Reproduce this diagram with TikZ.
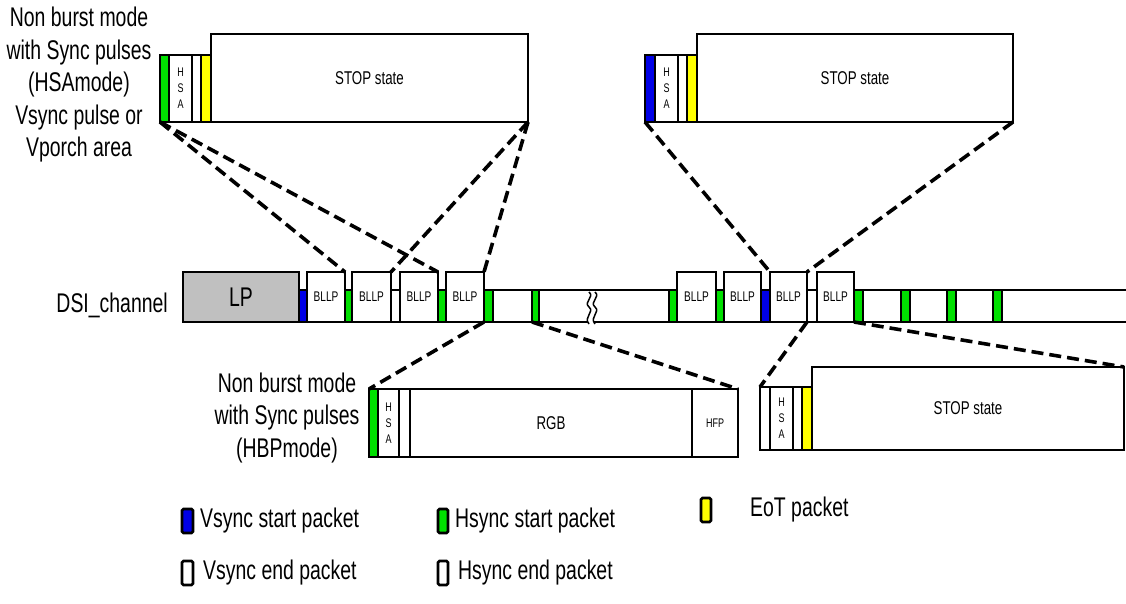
\documentclass[tikz,border=0pt]{standalone}
\usepackage{fontspec}
\setmainfont{Liberation Sans}[FakeStretch=0.72]
\usepackage{tikz}
\usetikzlibrary{positioning}
\definecolor{vsblue}{HTML}{0000E6}
\definecolor{hsgreen}{HTML}{00E000}
\definecolor{eotyellow}{HTML}{FFFF00}
\definecolor{lpgrey}{HTML}{C0C0C0}
\newcommand{\lblfont}{\fontsize{27}{32.5}\selectfont}
\newcommand{\stopfont}{\fontsize{18.5}{21}\selectfont}
\newcommand{\bllpfont}{\fontsize{14}{16}\selectfont}
\newcommand{\hsafont}{\fontsize{12.5}{16}\selectfont}

\begin{document}
\begin{tikzpicture}[x=1pt,y=-1pt,
  cell/.style 2 args={draw,line width=2.8pt,fill=white,inner sep=0pt,outer sep=0pt,anchor=north west,
    align=center,minimum width=#1,minimum height=#2},
  key/.style={draw,line width=2.6pt,rounded corners=1.5pt,inner sep=0pt,outer sep=0pt,anchor=north west,
    minimum width=10pt,minimum height=24pt},
  lbl/.style={font=\lblfont,inner sep=0pt},
  wire/.style={line width=2.8pt},
  lead/.style={dash pattern=on 12pt off 6pt,line width=3.6pt}]
  \useasboundingbox (0,0) rectangle (1126,604);
  % top left: HSA mode line
  \node[cell={9}{67},fill=hsgreen] (tlG) at (160,55) {};
  \node[cell={23}{67},font=\hsafont] (tlHsa) at (169,55) {H\\S\\A};
  \node[cell={9}{67}] (tlE) at (192,55) {};
  \node[cell={10}{67},fill=eotyellow] (tlEot) at (201,55) {};
  \node[cell={317}{88},font=\stopfont] (tlStop) at (211,34) {STOP state};
  \node[lbl,align=center] (lblHsa) at (79,85) {Non burst mode\\with Sync pulses\\(HSAmode)\\Vsync pulse or\\Vporch area};
  % top right: vsync start line
  \node[cell={10}{67},fill=vsblue] (trV) at (645,55) {};
  \node[cell={23}{67},font=\hsafont] (trHsa) at (655,55) {H\\S\\A};
  \node[cell={9}{67}] (trE) at (678,55) {};
  \node[cell={10}{67},fill=eotyellow] (trEot) at (687,55) {};
  \node[cell={316}{88},font=\stopfont] (trStop) at (697,34) {STOP state};
  % channel
  \draw[wire,fill=white] (299,290) -- (1130,290) (183,322) -- (1130,322);
  \node[lbl,anchor=east] (lblDsi) at (168,305) {DSI\_channel};
  \node[cell={116}{50},fill=lpgrey,font=\lblfont] (lp) at (183,272) {LP};
  \node[cell={8}{32},fill=vsblue] (chV1) at (299,290) {};
  \node[cell={38}{50},font=\bllpfont] (b1) at (307,272) {BLLP};
  \node[cell={7}{32},fill=hsgreen] (chG1) at (345,290) {};
  \node[cell={39}{50},font=\bllpfont] (b2) at (352,272) {BLLP};
  \node[cell={38}{50},font=\bllpfont] (b3) at (400,272) {BLLP};
  \node[cell={8}{32},fill=hsgreen] (chG2) at (438,290) {};
  \node[cell={38}{50},font=\bllpfont] (b4) at (446,272) {BLLP};
  \node[cell={9}{32},fill=hsgreen] (chG3) at (484,290) {};
  \node[cell={7}{32},fill=hsgreen] (chG4) at (532,290) {};
  \node[cell={8}{32},fill=hsgreen] (chG5) at (669,290) {};
  \node[cell={39}{50},font=\bllpfont] (b5) at (677,272) {BLLP};
  \node[cell={8}{32},fill=hsgreen] (chG6) at (716,290) {};
  \node[cell={37}{50},font=\bllpfont] (b6) at (724,272) {BLLP};
  \node[cell={9}{32},fill=vsblue] (chV2) at (761,290) {};
  \node[cell={37}{50},font=\bllpfont] (b7) at (770,272) {BLLP};
  \node[cell={37}{50},font=\bllpfont] (b8) at (817,272) {BLLP};
  \node[cell={9}{32},fill=hsgreen] (chG7) at (854,290) {};
  \node[cell={9}{32},fill=hsgreen] (chG8) at (901,290) {};
  \node[cell={9}{32},fill=hsgreen] (chG9) at (947,290) {};
  \node[cell={9}{32},fill=hsgreen] (chG10) at (993,290) {};
  % break mark
  \fill[white] (589,292) .. controls (595,297) and (583,302) .. (589,307) .. controls (595,312) and (583,317) .. (589,324)
    -- (595,324) .. controls (589,317) and (601,312) .. (595,307) .. controls (589,302) and (601,297) .. (595,292) -- cycle;
  \draw[line width=1.5pt] (589,292) .. controls (595,297) and (583,302) .. (589,307) .. controls (595,312) and (583,317) .. (589,324);
  \draw[line width=1.5pt] (595,292) .. controls (601,297) and (589,302) .. (595,307) .. controls (601,312) and (589,317) .. (595,324);
  % bottom left: HBP mode line
  \node[cell={9}{68},fill=hsgreen] (blG) at (369,389) {};
  \node[cell={21}{68},font=\hsafont] (blHsa) at (378,389) {H\\S\\A};
  \node[cell={11}{68}] (blE) at (399,389) {};
  \node[cell={282}{68},font=\stopfont] (blRgb) at (410,389) {RGB};
  \node[cell={46}{68},font=\hsafont] (blHfp) at (692,389) {HFP};
  \node[lbl,align=center] (lblHbp) at (287,418) {Non burst mode\\with Sync pulses\\(HBPmode)};
  % bottom right: last line
  \node[cell={10}{63}] (brE) at (760,387) {};
  \node[cell={23}{63},font=\hsafont] (brHsa) at (770,387) {H\\S\\A};
  \node[cell={9}{63}] (brE2) at (793,387) {};
  \node[cell={10}{63},fill=eotyellow] (brEot) at (802,387) {};
  \node[cell={312}{83},font=\stopfont] (brStop) at (812,367) {STOP state};
  % zoom leads
  \draw[lead] (tlG.south west) -- (b1.north east);
  \draw[lead] (tlG.south west) -- (b3.north east);
  \draw[lead] (tlStop.south east) -- (b2.north east);
  \draw[lead] (tlStop.south east) -- (b4.north east);
  \draw[lead] (trV.south west) -- (b7.north west);
  \draw[lead] (trStop.south east) -- (b7.north east);
  \draw[lead] (b4.south east) -- (blG.north west);
  \draw[lead] (chG4.south west) -- (blHfp.north east);
  \draw[lead] (b7.south east) -- (brE.north west);
  \draw[lead] (chG7.south west) -- (brStop.north east);
  % legend
  \node[key,fill=vsblue,minimum width=11pt] (lgVs) at (182,509) {};
  \node[lbl,anchor=west,right=7pt of lgVs] (lgVsT) {Vsync start packet};
  \node[key,fill=hsgreen] (lgHs) at (438,509) {};
  \node[lbl,anchor=west,right=7pt of lgHs] (lgHsT) {Hsync start packet};
  \node[key,fill=eotyellow] (lgEot) at (701,498) {};
  \node[lbl,anchor=west,right=39pt of lgEot] (lgEotT) {EoT packet};
  \node[key,fill=white,minimum width=11pt] (lgVe) at (182,561) {};
  \node[lbl,anchor=west,right=10pt of lgVe] (lgVeT) {Vsync end packet};
  \node[key,fill=white] (lgHe) at (438,561) {};
  \node[lbl,anchor=west,right=10pt of lgHe] (lgHeT) {Hsync end packet};
\end{tikzpicture}
\end{document}
